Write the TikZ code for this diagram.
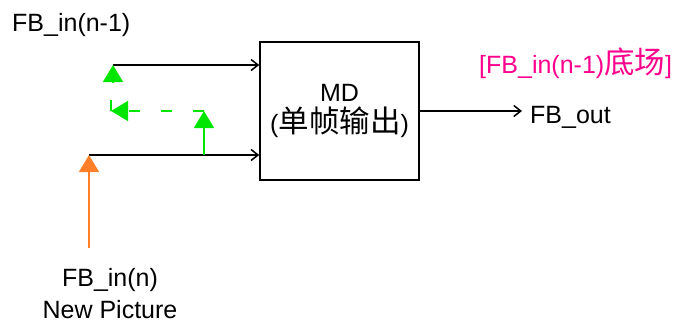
\documentclass[tikz,border=0pt]{standalone}
\usepackage{fontspec}
\setmainfont{Liberation Sans}
\newfontfamily\cjk[Scale=1.22]{Noto Sans CJK SC}
\usetikzlibrary{arrows.meta,positioning}
\definecolor{fbgreen}{RGB}{0,230,0}
\definecolor{fborange}{RGB}{255,128,40}
\definecolor{fbpink}{RGB}{255,0,140}

\begin{document}
\begin{tikzpicture}[
        x=1pt, y=-1pt,
        font=\fontsize{25}{32}\selectfont,
        sig/.style={line width=1.5pt, -{Straight Barb[length=7pt,width=11pt]}},
        fwd/.style={fbgreen, line width=1.5pt},
        tri/.style={-{Triangle[length=17pt,width=20pt]}},
        lbl/.style={inner sep=0pt, anchor=base west}
    ]
    \useasboundingbox (0,0) rectangle (678,327);
    % MD block
    \node[draw, line width=1.5pt, minimum width=159pt, minimum height=138pt,
          align=center, font=\fontsize{25}{34}\selectfont] (md) at (339.5,111)
        {\raisebox{-3pt}{MD}\\({\cjk 单帧输出})};
    % labels
    \node[lbl] (prev) at (12,31) {FB\_in(n-1)};
    \node[lbl, text=fbpink] (field) at (479,73) {[FB\_in(n-1){\cjk 底场}]};
    \node[lbl] (fbout) at (530,123) {FB\_out};
    \node[inner sep=0pt, align=center, anchor=north] (cur) at (110,268)
        {FB\_in(n)\\New Picture};
    % inputs
    \coordinate (fbtop) at (113,65);
    \coordinate (fbbot) at (89,155);
    \coordinate (src) at (89,248);
    \draw[sig] (fbtop) -- (fbtop -| md.west);
    \draw[sig] (fbbot) -- (fbbot -| md.west);
    \draw[fwd, tri] (113,82) -- (fbtop);
    \draw[fborange, line width=1.5pt, tri] (src) -- (fbbot);
    % feedback
    \coordinate (tap) at (204,155);
    \coordinate (turn) at (204,111);
    \coordinate (back) at (111,111);
    \coordinate (hook) at (111,100);
    \draw[fwd, tri] (tap) -- (turn);
    \draw[fwd, dash pattern=on 11pt off 21pt, tri] (turn) -- (back);
    \draw[fwd] (back) -- (hook);
    % output
    \coordinate (outend) at (522,111);
    \draw[sig] (md.east) -- (outend);
\end{tikzpicture}
\end{document}
